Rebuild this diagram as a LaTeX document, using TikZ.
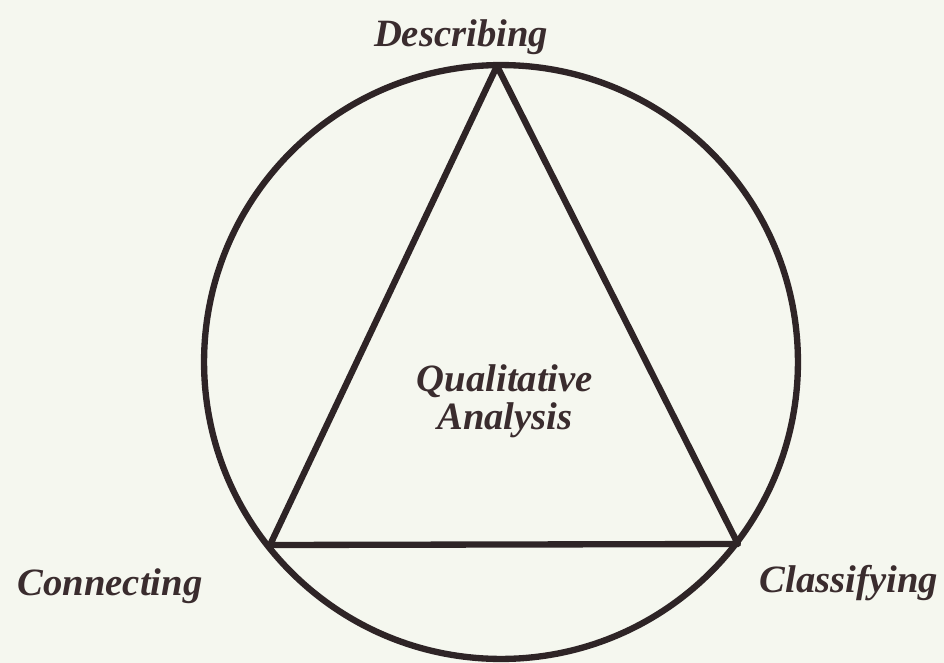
\documentclass[tikz,border=0pt]{standalone}
\usepackage{fontspec}
\setmainfont{Liberation Serif}
\usepackage{tikz}
\usetikzlibrary{positioning}
\definecolor{inkline}{RGB}{46,36,38}
\definecolor{inktext}{RGB}{58,44,46}
\definecolor{paper}{RGB}{245,247,239}

\begin{document}
\begin{tikzpicture}[
    x=0.02cm, y=-0.02cm,
    edge/.style={draw=inkline, line width=3.6pt, line join=round},
    label/.style={text=inktext, font=\fontsize{22}{21.5}\selectfont\bfseries\itshape, inner sep=0pt}
]
\fill[paper] (0,0) rectangle (944,663);
\useasboundingbox (0,0) rectangle (944,663);

\node[circle, edge, minimum size=11.88cm, inner sep=0pt] (ring) at (501,362) {};

\coordinate (top) at (497,66);
\coordinate (left) at (270,545);
\coordinate (right) at (738,544);

\draw[edge] (top) -- (left) -- (right) -- cycle;

\node[label, anchor=base] (desc) at (461,46) {Describing};
\node[label, anchor=base] (conn) at (110,595) {Connecting};
\node[label, anchor=base] (clas) at (849,592) {Classifying};
\node[label, align=center] (qa) at (505,401) {Qualitative\\Analysis};

\end{tikzpicture}
\end{document}
